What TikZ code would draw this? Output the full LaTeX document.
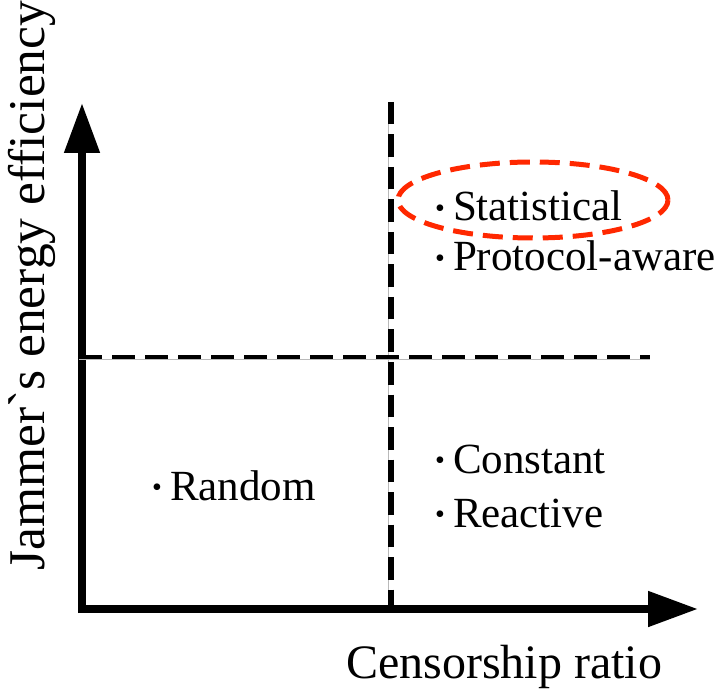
\documentclass[tikz,border=0pt]{standalone}
\usepackage{fontspec}
\setmainfont{LiberationSerif}[Extension=.ttf,UprightFont=*-Regular,BoldFont=*-Bold,ItalicFont=*-Italic]
\usetikzlibrary{arrows.meta}
\definecolor{ringred}{RGB}{255,40,0}
\newcommand{\itemdot}{\raisebox{3.5pt}{\fontsize{28pt}{28pt}\selectfont\textbullet}\hspace{8pt}}
\begin{document}
\begin{tikzpicture}[x=1pt,y=-1pt,
  axis/.style={line width=8pt,-{Triangle[length=50pt,width=34pt]}},
  divider/.style={black,dash pattern=on 23pt off 10pt},
  hairline/.style={gray!55,line width=0.8pt},
  item/.style={inner sep=0pt,anchor=base west,font=\fontsize{43pt}{48pt}\selectfont},
  ring/.style={ringred,line width=5pt,dash pattern=on 20pt off 10pt}]
\useasboundingbox (0,0) rectangle (725,692);

% axes
\coordinate (corner) at (78,609);
\coordinate (ybase) at (82,613);
\coordinate (ytip) at (82,103);
\coordinate (xtip) at (698,609);
\draw[axis] (corner) -- (xtip);
\draw[axis] (ybase) -- (ytip);

% quadrant dividers
\coordinate (vtop) at (391,102);
\coordinate (vbot) at (391,605);
\coordinate (hleft) at (79,357);
\coordinate (hright) at (650,357);
\draw[hairline] ([xshift=-3pt]vtop) -- ([xshift=-3pt]vbot);
\draw[hairline] ([yshift=-2pt]hleft) -- ([yshift=-2pt]hright);
\draw[divider,line width=4.5pt] (hleft) -- (hright);
\draw[divider,line width=6pt,dash pattern=on 22.5pt off 10pt] (vtop) -- (vbot);

% axis titles
\node[inner sep=0pt,anchor=base west,font=\fontsize{48pt}{54pt}\selectfont] (xlabel) at (346,678) {Censorship ratio};
\node[inner sep=0pt,anchor=base west,rotate=90,font=\fontsize{51.5pt}{56pt}\selectfont] (ylabel) at (44,571) {Jammer\textasciigrave s energy efficiency};

% jammer types
\node[item] (stat) at (435,221) {\itemdot Statistical};
\node[item] (proto) at (435,271) {\itemdot Protocol-aware};
\node[item] (const) at (435,473) {\itemdot Constant};
\node[item] (react) at (435,527) {\itemdot Reactive};
\node[item] (rand) at (152,500) {\itemdot Random};

% highlight ring
\coordinate (ringc) at (533,200);
\draw[ring] (ringc) ellipse [x radius=135pt, y radius=38pt];
\end{tikzpicture}
\end{document}
